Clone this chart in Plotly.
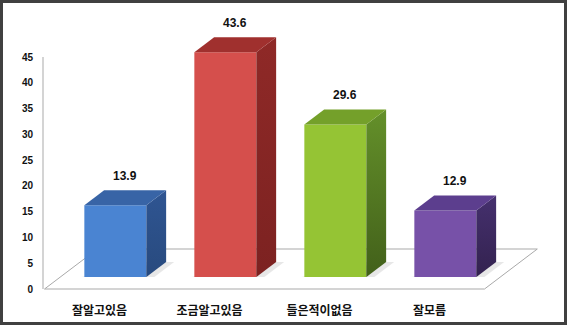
import plotly.graph_objects as go

# ---- data ----
categories = ["잘알고있음", "조금알고있음", "들은적이없음", "잘모름"]
values = [13.9, 43.6, 29.6, 12.9]
y_tick_vals = [0, 5, 10, 15, 20, 25, 30, 35, 40, 45]
value_labels = ["13.9", "43.6", "29.6", "12.9"]

# ---- styles ----
front_colors = ["#4a84d2", "#d54f4c", "#95c434", "#7751a8"]
side_grad = [("#2f5592", "#284a7e"), ("#8f2927", "#7c2221"),
             ("#64902a", "#42601a"), ("#45306e", "#33224f")]
top_colors = ["#3864a6", "#a0302e", "#74a02a", "#5c3e8e"]

W, H = 567, 325
ML, MR, MT, MB = 43, 7, 3, 32
PW, PH = W - ML - MR, H - MT - MB
KX = 110.0                 # px per category
Y_TOP_TICK = 45
KY = 232.0 / 45.0          # px per value unit
x0_px = 99.5               # first category centre (front of floor)
xmin = (ML - x0_px) / KX
xmax = xmin + PW / KX
ymin = -4.0 / KY
ymax = ymin + PH / KY

SLOPE = 1.32               # px right per px of depth
def dxy(depth_px):
    return depth_px * SLOPE / KX, depth_px / KY

bar_w = 62.0 / KX
front_depth = 12.0
bar_depth = 15.0
floor_depth = 40.0

fx, fy = dxy(front_depth)
bdx, bdy = dxy(bar_depth)
flx, fly = dxy(floor_depth)

fig = go.Figure()

# floor (base subplot, drawn under the bars)
n = len(categories)
floor_x = [-0.5, n - 0.5, n - 0.5 + flx, -0.5 + flx, -0.5]
floor_y = [0, 0, fly, fly, 0]
fig.add_trace(go.Scatter(x=floor_x, y=floor_y, mode="lines", fill="toself",
                         fillcolor="white", line=dict(color="#a9a9a9", width=1),
                         hoverinfo="skip", showlegend=False))
# soft shadows on the floor
for i, v in enumerate(values):
    xc = i + fx
    xl, xr = xc - bar_w / 2, xc + bar_w / 2
    s = 8.0 / KX
    sx = [xl - 3.0 / KX, xr + s, xr + bdx + s, xr + bdx, xl - 3.0 / KX]
    sy = [fy, fy, fy + bdy, fy + bdy, fy]
    fig.add_trace(go.Scatter(x=sx, y=sy, mode="lines", fill="toself",
                             fillcolor="rgba(120,120,120,0.18)", line=dict(width=0),
                             hoverinfo="skip", showlegend=False))

# front faces of bars (overlay subplot)
bar_x = [i + fx for i in range(n)]
fig.add_trace(go.Bar(x=bar_x, y=values, base=[fy] * n, width=[bar_w] * n,
                     marker=dict(color=front_colors, line=dict(width=0)),
                     xaxis="x2", yaxis="y2", hoverinfo="skip", showlegend=False))

for i, v in enumerate(values):
    xc = i + fx
    xl, xr = xc - bar_w / 2, xc + bar_w / 2
    yb, yt = fy, fy + v
    # right side face
    fig.add_trace(go.Scatter(
        x=[xr, xr, xr + bdx, xr + bdx, xr], y=[yb, yt, yt + bdy, yb + bdy, yb],
        mode="lines", fill="toself", line=dict(width=0),
        fillgradient=dict(type="vertical",
                          colorscale=[[0, side_grad[i][1]], [1, side_grad[i][0]]]),
        xaxis="x2", yaxis="y2", hoverinfo="skip", showlegend=False))
    # top face
    fig.add_trace(go.Scatter(
        x=[xl, xr, xr + bdx, xl + bdx, xl], y=[yt, yt, yt + bdy, yt + bdy, yt],
        mode="lines", fill="toself", fillcolor=top_colors[i], line=dict(width=0),
        xaxis="x2", yaxis="y2", hoverinfo="skip", showlegend=False))
    fig.add_annotation(x=xc + bdx / 2, y=yt + bdy, xref="x2", yref="y2",
                       text=value_labels[i], showarrow=False, yanchor="middle",
                       yshift=14, font=dict(size=12, color="#111111",
                                            family="Liberation Sans, Noto Sans CJK KR",
                                            weight="bold"))

font_fam = "Liberation Sans, Noto Sans CJK KR"
fig.update_layout(
    width=W, height=H, margin=dict(l=ML, r=MR, t=MT, b=MB),
    paper_bgcolor="white", plot_bgcolor="white",
    xaxis=dict(range=[xmin, xmax], tickvals=list(range(n)), ticktext=categories,
               showgrid=False, zeroline=False, showline=False,
               ticks="outside", ticklen=7, tickcolor="rgba(0,0,0,0)",
               tickfont=dict(size=12, color="#111111", family="Noto Sans CJK KR",
                             weight="bold")),
    yaxis=dict(range=[ymin, ymax], tickvals=y_tick_vals,
               showgrid=False, zeroline=False, showline=False,
               ticks="outside", ticklen=7, tickcolor="rgba(0,0,0,0)",
               tickfont=dict(size=10, color="#111111", family=font_fam, weight="bold")),
    xaxis2=dict(overlaying="x", matches="x", visible=False, range=[xmin, xmax]),
    yaxis2=dict(overlaying="y", matches="y", visible=False, range=[ymin, ymax]),
    showlegend=False,
)

# vertical value axis line (0..45) at the left edge of the plot
fig.add_shape(type="line", xref="paper", yref="y", x0=0, x1=0, y0=0, y1=Y_TOP_TICK,
              line=dict(color="#a9a9a9", width=1))
# outer dark frame
fig.add_shape(type="rect", xref="paper", yref="paper",
              x0=(1.5 - ML) / PW, x1=(W - 1.5 - ML) / PW,
              y0=(MT + PH - (H - 1.5)) / PH, y1=(MT + PH - 1.5) / PH,
              line=dict(color="#404040", width=3), fillcolor="rgba(0,0,0,0)")

fig.write_html("out.html")
